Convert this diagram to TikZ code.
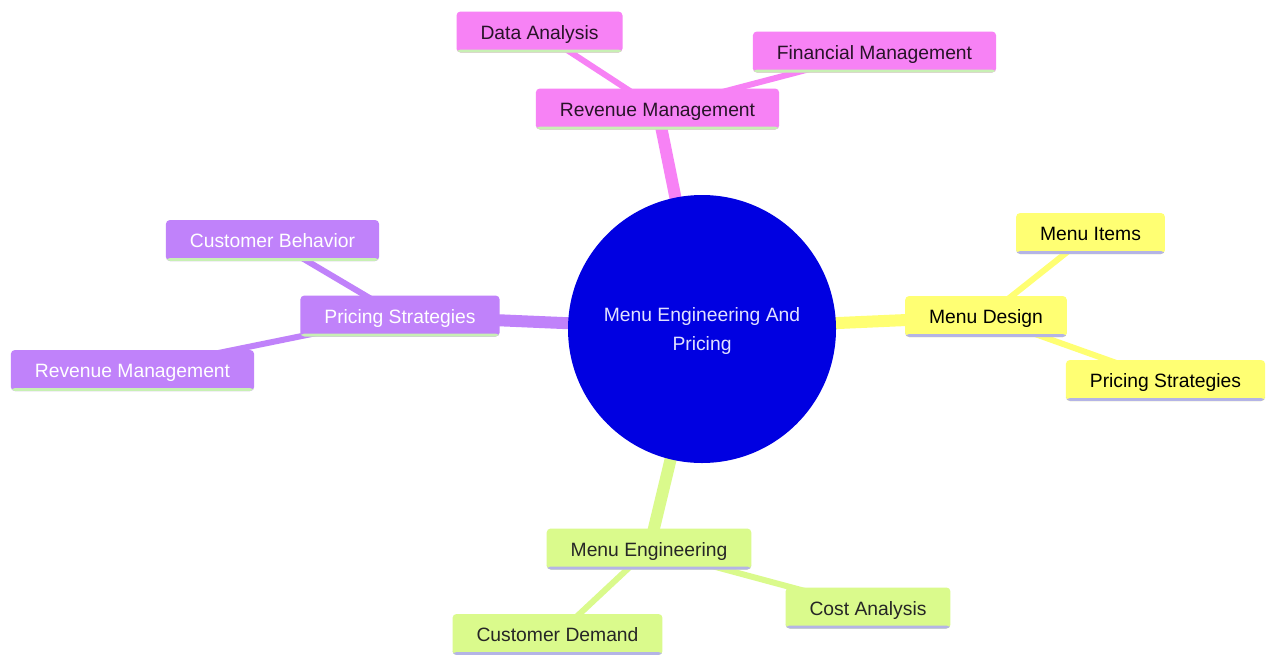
\documentclass[tikz,border=0pt]{standalone}
\usepackage{fontspec}
\setmainfont{Liberation Sans}
\usetikzlibrary{backgrounds}
\definecolor{cpink}{RGB}{247,130,245}
\definecolor{cpurple}{RGB}{192,130,250}
\definecolor{cyellow}{RGB}{255,255,115}
\definecolor{cgreen}{RGB}{218,250,140}
\definecolor{cblue}{RGB}{0,0,225}
\definecolor{lgreen}{RGB}{200,240,180}
\definecolor{lav}{RGB}{180,180,230}
\definecolor{darktxt}{RGB}{40,20,40}
\tikzset{
  box/.style 2 args={rectangle, rounded corners=4pt, fill=#1, minimum height=41pt,
    inner xsep=24pt, inner ysep=0pt, text height=14pt, text depth=0pt,
    font=\fontsize{19.3}{22}\selectfont,
    path picture={\fill[#2] (path picture bounding box.south west) rectangle ([yshift=3pt]path picture bounding box.south east);}},
  pinkbox/.style={box={cpink}{lgreen}, text=darktxt},
  purplebox/.style={box={cpurple}{lgreen}, text=white},
  yellowbox/.style={box={cyellow}{lav}, text=black},
  greenbox/.style={box={cgreen}{lav}, text=black!85},
  edgeone/.style={line width=12pt},
  edgetwo/.style={line width=6pt},
}
\begin{document}
\begin{tikzpicture}[x=1pt,y=-1pt]
\useasboundingbox (0,0) rectangle (1266,654);
\node[circle, fill=cblue, minimum size=268pt, inner sep=0pt] (c) at (702,329) {};
\node[text={rgb,255:red,225;green,225;blue,255}, align=center, inner sep=0pt,
  font=\fontsize{19.3}{29}\selectfont] (ct) at (c.center) [yshift=-2pt] {Menu Engineering And\\Pricing};
% pink
\node[pinkbox] (rm) at (657.5,109) {Revenue Management};
\node[pinkbox] (da) at (539.5,32) {Data Analysis};
\node[pinkbox] (fm) at (874.5,52) {Financial Management};
% purple
\node[purplebox] (ps) at (400,316) {Pricing Strategies};
\node[purplebox] (cb) at (272.5,240.5) {Customer Behavior};
\node[purplebox] (rm2) at (132.5,370.5) {Revenue Management};
% yellow
\node[yellowbox] (md) at (986,316.5) {Menu Design};
\node[yellowbox] (mi) at (1090.5,233.5) {Menu Items};
\node[yellowbox] (ps2) at (1165.5,380.5) {Pricing Strategies};
% green
\node[greenbox] (me) at (649,549) {Menu Engineering};
\node[greenbox] (cd) at (557.5,634.5) {Customer Demand};
\node[greenbox] (ca) at (868,608) {Cost Analysis};
\begin{scope}[on background layer]
\fill[white] (0,0) rectangle (1266,654);
\draw[edgeone, cpink] (c.center) -- (rm.center);
\draw[edgetwo, cpink] (rm.center) -- (da.center);
\draw[edgetwo, cpink] (rm.center) -- (fm.center);
\draw[edgeone, cpurple] (c.center) -- (ps.center);
\draw[edgetwo, cpurple] (ps.center) -- (cb.center);
\draw[edgetwo, cpurple] (ps.center) -- (rm2.center);
\draw[edgeone, cyellow] (c.center) -- (md.center);
\draw[edgetwo, cyellow] (md.center) -- (mi.center);
\draw[edgetwo, cyellow] (md.center) -- (ps2.center);
\draw[edgeone, cgreen] (c.center) -- (me.center);
\draw[edgetwo, cgreen] (me.center) -- (cd.center);
\draw[edgetwo, cgreen] (me.center) -- (ca.center);
\end{scope}
\end{tikzpicture}
\end{document}
